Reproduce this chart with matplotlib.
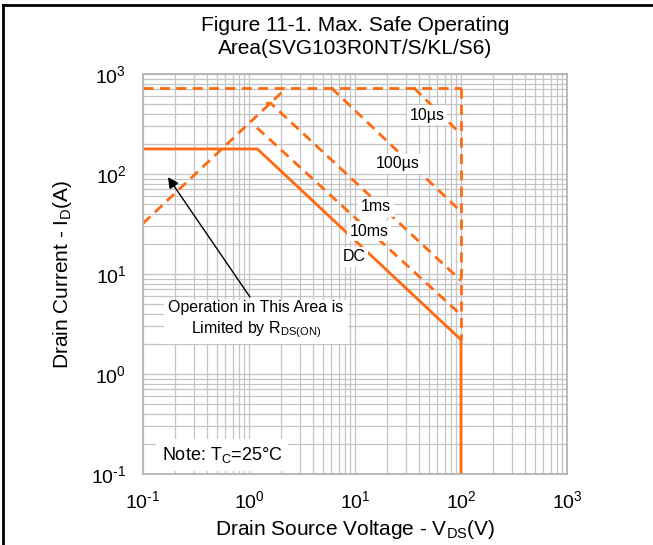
import matplotlib
matplotlib.use("Agg")
import matplotlib.pyplot as plt
from matplotlib.lines import Line2D
from matplotlib.ticker import FixedLocator, FuncFormatter
import numpy as np

plt.rcParams['font.family'] = ['Liberation Sans', 'DejaVu Sans']
plt.rcParams['mathtext.fontset'] = 'custom'
plt.rcParams['mathtext.rm'] = 'Liberation Sans'
plt.rcParams['mathtext.it'] = 'Liberation Sans:italic'
plt.rcParams['axes.unicode_minus'] = False

# ---- data (V in volts, I in amps) ----
dc_v = [0.1, 1.2, 100, 100]
dc_i = [178, 178, 2.2, 0.1]
rds_v = [0.1, 2.25]
rds_i = [32, 724]
top_v = [0.1, 100]
top_i = [724, 724]
vmax_v = [100, 100]
vmax_i = [724, 2.2]
us10_v = [36, 100]
us10_i = [724, 250]
us100_v = [6.0, 100]
us100_i = [724, 42]
ms1_v = [1.45, 1.6, 1.6, 100]
ms1_i = [510, 510, 510, 8.6]
ms10_v = [1.19, 100]
ms10_i = [290, 3.9]

curve_labels = ["10µs", "100µs", "1ms", "10ms", "DC"]
label_v = [47.8, 25.5, 15.8, 13.5, 9.8]
label_i = [389, 126, 46.8, 26.9, 14.8]

tick_vals = [0.1, 1, 10, 100, 1000]

orange = '#FF6A10'
dash = (0, (3.6, 2.3))

fig = plt.figure(figsize=(6.53, 5.45), dpi=100)
ax = fig.add_axes([143/653, 71/545, 424/653, 400/545])
ax.set_xscale('log')
ax.set_yscale('log')
ax.set_xlim(0.1, 1000)
ax.set_ylim(0.1, 1000)


def fmt(v, pos):
    e = int(round(np.log10(v)))
    return '$\\mathregular{10^{\\text{%d}}}$' % e


for axis in (ax.xaxis, ax.yaxis):
    axis.set_major_locator(FixedLocator(tick_vals))
    axis.set_major_formatter(FuncFormatter(fmt))

ax.grid(True, which='major', color='#c4c4c4', lw=0.9)
ax.grid(True, which='minor', color='#c4c4c4', lw=0.9)
ax.set_axisbelow(True)
for s in ax.spines.values():
    s.set_color('#b4b4b4')
    s.set_linewidth(1.3)
ax.tick_params(which='both', length=0, labelsize=14)
ax.tick_params(axis='x', pad=12)
ax.tick_params(axis='y', pad=12)

lw = 2.0
ax.plot(dc_v, dc_i, color=orange, lw=lw, solid_joinstyle='miter')
for v, i in [(rds_v, rds_i), (top_v, top_i), (vmax_v, vmax_i), (us10_v, us10_i),
             (us100_v, us100_i), (ms1_v, ms1_i), (ms10_v, ms10_i)]:
    ax.plot(v, i, color=orange, lw=lw, linestyle=dash)

for t, x, y in zip(curve_labels, label_v, label_i):
    ax.text(x, y, t, fontsize=11.5, ha='center', va='center',
            bbox=dict(facecolor='white', edgecolor='none', pad=2))

ax.text(1.16, 3.47, 'Operation in This Area is\nLimited by R$_{\\mathregular{DS(ON)}}$',
        fontsize=11.5, ha='center', va='center', linespacing=1.3,
        bbox=dict(facecolor='white', edgecolor='none', pad=3))
ax.annotate('', xy=(0.172, 93), xytext=(1.02, 5.9),
            arrowprops=dict(arrowstyle='-|>', color='black', lw=1.0,
                            mutation_scale=16, shrinkA=0, shrinkB=0))

ax.text(0.556, 0.155, 'Note: T$_{\\mathregular{C}}$=25°C', fontsize=13, ha='center', va='center',
        bbox=dict(facecolor='white', edgecolor='none', pad=4))

ax.set_xlabel('Drain Source Voltage - V$_{\\mathregular{DS}}$(V)', fontsize=15, labelpad=4)
ax.set_ylabel('Drain Current - I$_{\\mathregular{D}}$(A)', fontsize=15, labelpad=12)

fig.text(355/653, 1 - 37/545, 'Figure 11-1. Max. Safe Operating\nArea(SVG103R0NT/S/KL/S6)',
         fontsize=15, ha='center', va='center', linespacing=1.3)

fig.add_artist(Line2D([3/653, 1], [1 - 5/545, 1 - 5/545], color='black', lw=2.0,
                      transform=fig.transFigure))
fig.add_artist(Line2D([3/653, 3/653], [0, 1 - 5/545], color='black', lw=2.0,
                      transform=fig.transFigure))

fig.savefig('out.png', dpi=100)
